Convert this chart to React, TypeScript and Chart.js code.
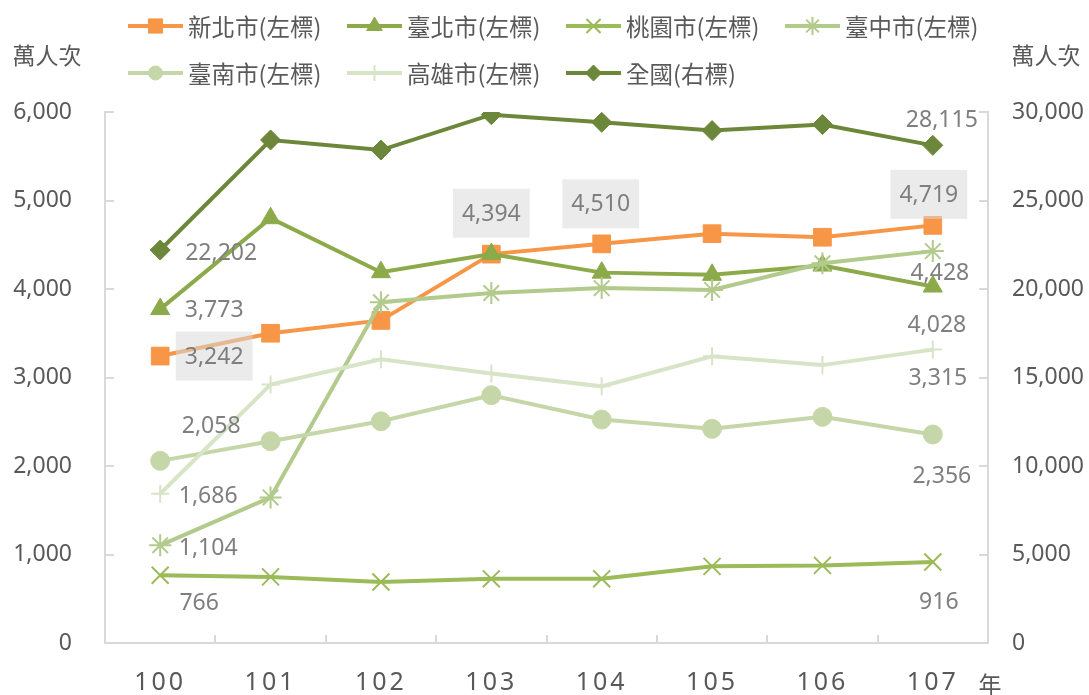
import React, { useEffect, useRef } from 'react';
import { Chart, registerables } from 'chart.js';
import { drawPoint } from 'chart.js/helpers';

Chart.register(...registerables);

// ---- data ----
const years = ['100', '101', '102', '103', '104', '105', '106', '107'];
const newTaipei = [3242, 3500, 3645, 4394, 4510, 4625, 4585, 4719];
const taipei = [3773, 4800, 4190, 4395, 4185, 4160, 4265, 4028];
const taoyuan = [766, 747, 690, 725, 725, 866, 877, 916];
const taichung = [1104, 1645, 3850, 3955, 4010, 3990, 4290, 4428];
const tainan = [2058, 2280, 2505, 2800, 2525, 2420, 2555, 2356];
const kaohsiung = [1686, 2920, 3205, 3045, 2900, 3240, 3140, 3315];
const national = [22202, 28420, 27850, 29850, 29420, 28950, 29290, 28115];

const seriesNames = ['新北市(左標)', '臺北市(左標)', '桃園市(左標)', '臺中市(左標)', '臺南市(左標)', '高雄市(左標)', '全國(右標)'];
const seriesData = [newTaipei, taipei, taoyuan, taichung, tainan, kaohsiung, national];
const unitLeft = '萬人次';
const unitRight = '萬人次';
const unitX = '年';
const leftMax = 6000;
const leftStep = 1000;
const rightMax = 30000;
const rightStep = 5000;

// ---- styles ----
const styles = [
  { color: '#F79646', point: 'rect', radius: 12.5, pbw: 1, legendR: 10 },
  { color: '#8DAA4B', point: 'triangle', radius: 11, pbw: 1, legendR: 9 },
  { color: '#9BBB59', point: 'crossRot', radius: 12, pbw: 2, legendR: 10 },
  { color: '#B2CA8C', point: 'star', radius: 11, pbw: 2, legendR: 9 },
  { color: '#C5D7A9', point: 'circle', radius: 9.5, pbw: 1, legendR: 7 },
  { color: '#D8E4C7', point: 'cross', radius: 9, pbw: 2, legendR: 8 },
  { color: '#6C873A', point: 'rectRot', radius: 10, pbw: 1, legendR: 8 },
];

// label placement (offsets from the point, in px)
const labelSpecs = [
  { ds: 0, i: 0, dx: 54, dy: 0, box: true },
  { ds: 0, i: 3, dx: 0, dy: -41, box: true },
  { ds: 0, i: 4, dx: -1, dy: -40, box: true },
  { ds: 0, i: 7, dx: -4, dy: -31, box: true },
  { ds: 1, i: 0, dx: 54, dy: 0 },
  { ds: 1, i: 7, dx: 4, dy: 38 },
  { ds: 2, i: 0, dx: 39, dy: 27 },
  { ds: 2, i: 7, dx: 6, dy: 40 },
  { ds: 3, i: 0, dx: 48, dy: 2 },
  { ds: 3, i: 7, dx: 7, dy: 21 },
  { ds: 4, i: 0, dx: 51, dy: -35 },
  { ds: 4, i: 7, dx: 9, dy: 41 },
  { ds: 5, i: 0, dx: 48, dy: 2 },
  { ds: 5, i: 7, dx: 5, dy: 28 },
  { ds: 6, i: 0, dx: 61, dy: 2 },
  { ds: 6, i: 7, dx: 9, dy: -26 },
];

const AXIS_COLOR = '#D9D9D9';
const TEXT_COLOR = '#595959';
const LABEL_COLOR = '#7F7F7F';
const NUM_FONT = '"Noto Sans", "Open Sans", sans-serif';
const CJK_FONT = '"Noto Sans CJK TC", "Noto Sans", sans-serif';

const fmt = (v: number) => v.toLocaleString('en-US');

const customPlugin = {
  id: 'customDecor',
  afterLayout(chart: any) {
    const xs = chart.scales.x;
    if (xs && !xs.__spaced) {
      const orig = xs.drawLabels.bind(xs);
      xs.drawLabels = (ca: any) => {
        const c = chart.ctx;
        c.save();
        try { (c as any).letterSpacing = '3px'; } catch (e) { /* ignore */ }
        orig(ca);
        c.restore();
      };
      xs.__spaced = true;
    }
  },
  beforeDatasetsDraw(chart: any) {
    const ctx = chart.ctx;
    const { left, right, bottom } = chart.chartArea;
    ctx.save();
    ctx.strokeStyle = AXIS_COLOR;
    ctx.lineWidth = 2;
    const ys = chart.scales.y;
    ys.ticks.forEach((t: any) => {
      const py = Math.round(ys.getPixelForValue(t.value));
      ctx.beginPath();
      ctx.moveTo(left, py);
      ctx.lineTo(left + 9, py);
      ctx.stroke();
    });
    const y1 = chart.scales.y1;
    y1.ticks.forEach((t: any) => {
      const py = Math.round(y1.getPixelForValue(t.value));
      ctx.beginPath();
      ctx.moveTo(right, py);
      ctx.lineTo(right - 9, py);
      ctx.stroke();
    });
    const xs = chart.scales.x;
    const step = xs.getPixelForValue(1) - xs.getPixelForValue(0);
    for (let i = 0; i <= years.length; i++) {
      const px = Math.round(xs.getPixelForValue(0) + (i - 0.5) * step);
      ctx.beginPath();
      ctx.moveTo(px, bottom);
      ctx.lineTo(px, bottom - 8);
      ctx.stroke();
    }
    ctx.restore();
  },
  afterDatasetsDraw(chart: any) {
    const ctx = chart.ctx;
    ctx.save();
    ctx.font = `23px ${NUM_FONT}`;
    ctx.textAlign = 'center';
    ctx.textBaseline = 'middle';
    labelSpecs.forEach((s) => {
      const meta = chart.getDatasetMeta(s.ds);
      const el = meta.data[s.i];
      if (!el) return;
      const text = fmt(seriesData[s.ds][s.i]);
      const cx = el.x + s.dx;
      const cy = el.y + s.dy;
      if (s.box) {
        const w = ctx.measureText(text).width + 18;
        const h = 49;
        ctx.fillStyle = 'rgba(216,216,216,0.52)';
        ctx.fillRect(cx - w / 2, cy - h / 2, w, h);
      }
      ctx.fillStyle = LABEL_COLOR;
      ctx.fillText(text, cx, cy + 1);
    });
    ctx.restore();
  },
  afterDraw(chart: any) {
    const ctx = chart.ctx;
    ctx.save();
    // legend
    const colW = 219;
    const x0 = 128;
    const rows = [26, 73];
    ctx.font = `23.5px ${CJK_FONT}`;
    ctx.textBaseline = 'middle';
    ctx.textAlign = 'left';
    seriesNames.forEach((name, k) => {
      const row = k < 4 ? 0 : 1;
      const col = k < 4 ? k : k - 4;
      const lx = x0 + col * colW;
      const ly = rows[row];
      const st = styles[k];
      ctx.strokeStyle = st.color;
      ctx.lineWidth = 4;
      ctx.beginPath();
      ctx.moveTo(lx, ly);
      ctx.lineTo(lx + 55, ly);
      ctx.stroke();
      ctx.fillStyle = st.color;
      ctx.strokeStyle = st.color;
      ctx.lineWidth = st.pbw;
      drawPoint(ctx, { pointStyle: st.point, rotation: 0, radius: st.legendR, borderWidth: st.pbw } as any, lx + 27.5, ly);
      ctx.fillStyle = TEXT_COLOR;
      ctx.fillText(name, lx + 60, ly + 1);
    });
    // units
    ctx.font = `23px ${CJK_FONT}`;
    ctx.textAlign = 'center';
    ctx.fillStyle = TEXT_COLOR;
    ctx.fillText(unitLeft, 47, 55);
    ctx.fillText(unitRight, 1046, 55);
    ctx.fillText(unitX, 990, 684);
    ctx.restore();
  },
};

export default function App() {
  const ref = useRef<HTMLCanvasElement | null>(null);
  useEffect(() => {
    if (!ref.current) return;
    const datasets = seriesData.map((d, k) => ({
      label: seriesNames[k],
      data: d,
      yAxisID: k === 6 ? 'y1' : 'y',
      borderColor: styles[k].color,
      backgroundColor: styles[k].color,
      borderWidth: 4,
      pointStyle: styles[k].point,
      pointRadius: styles[k].radius,
      pointBorderWidth: styles[k].pbw,
      pointBackgroundColor: styles[k].color,
      pointBorderColor: styles[k].color,
      tension: 0,
      order: 6 - k,
    }));
    const chart = new Chart(ref.current, {
      type: 'line',
      data: { labels: years, datasets },
      options: {
        responsive: false,
        animation: false,
        devicePixelRatio: 1,
        layout: { padding: { top: 112, left: 0, right: 0, bottom: 0 } },
        plugins: { legend: { display: false }, tooltip: { enabled: false }, title: { display: false } },
        scales: {
          x: {
            type: 'category',
            offset: true,
            grid: { display: false, drawTicks: false },
            border: { display: true, color: AXIS_COLOR, width: 2 },
            ticks: { color: TEXT_COLOR, font: { size: 25, family: NUM_FONT }, padding: 25, maxRotation: 0 },
            afterFit: (s: any) => { s.height = 52; },
          },
          y: {
            position: 'left',
            min: 0,
            max: leftMax,
            grid: { display: false, drawTicks: false },
            border: { display: true, color: AXIS_COLOR, width: 2 },
            ticks: { stepSize: leftStep, color: TEXT_COLOR, font: { size: 23, family: NUM_FONT }, padding: 33, callback: (v: any) => fmt(Number(v)) },
            afterFit: (s: any) => { s.width = 105; },
          },
          y1: {
            position: 'right',
            min: 0,
            max: rightMax,
            grid: { display: false, drawTicks: false },
            border: { display: true, color: AXIS_COLOR, width: 2 },
            ticks: { stepSize: rightStep, color: TEXT_COLOR, font: { size: 23, family: NUM_FONT }, padding: 24, callback: (v: any) => fmt(Number(v)) },
            afterFit: (s: any) => { s.width = 101; },
          },
        },
      },
      plugins: [customPlugin],
    } as any);
    return () => chart.destroy();
  }, []);
  return (
    <div style={{ position: 'absolute', left: 0, top: 0, width: 1089, height: 695, background: '#fff' }}>
      <canvas ref={ref} width={1089} height={695} />
    </div>
  );
}
